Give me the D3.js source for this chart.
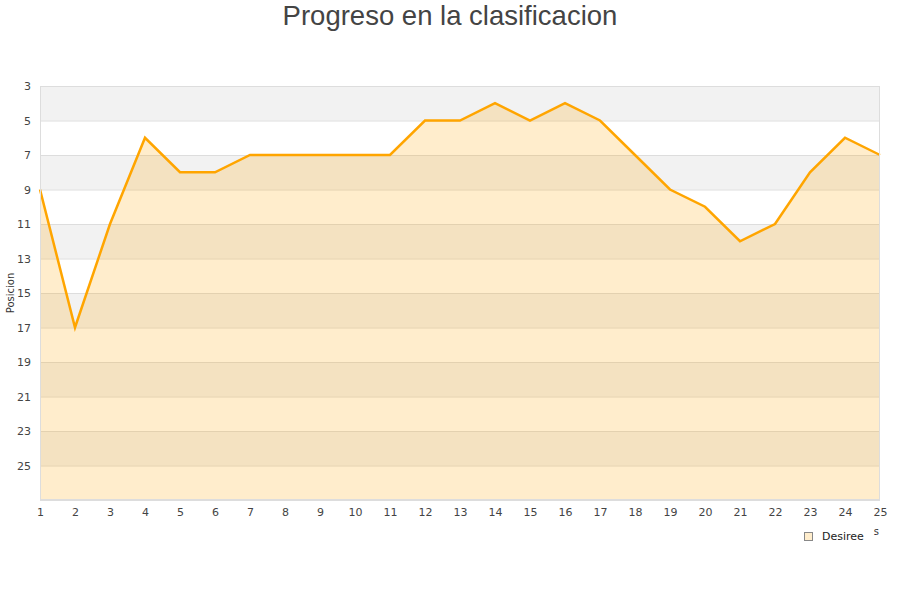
<!DOCTYPE html>
<html><head><meta charset="utf-8">
<script src="https://cdn.jsdelivr.net/npm/d3@7"></script>
<style>body{margin:0;background:#fff}svg{display:block}</style>
</head><body><svg id="c" width="900" height="600"></svg>
<script>
const jornadas = [1,2,3,4,5,6,7,8,9,10,11,12,13,14,15,16,17,18,19,20,21,22,23,24,25];
const posiciones = [9,17,11,6,8,8,7,7,7,7,7,5,5,4,5,4,5,7,9,10,12,11,8,6,7];
const yTicks = [3,5,7,9,11,13,15,17,19,21,23,25];
const bandStarts = [3,7,11,15,19,23];
const seriesName = "Desiree";
const title = "Progreso en la clasificacion";

const svg = d3.select("#c");
const L=40,R=880,T=86,B=500;
const x = d3.scaleLinear().domain([1,25]).range([L,R]);
const y = d3.scaleLinear().domain([3,27]).range([T,B]);

svg.append("text").attr("x",450).attr("y",25).attr("text-anchor","middle")
  .attr("font-family","Liberation Sans, Arial, sans-serif").attr("font-size",27.5).attr("fill","#444").text(title);

svg.append("rect").attr("x",L).attr("y",T).attr("width",R-L).attr("height",B-T).attr("fill","#fff");
svg.selectAll("rect.band").data(bandStarts).enter().append("rect").attr("class","band")
  .attr("x",L).attr("width",R-L).attr("y",d=>y(d)).attr("height",d=>y(d+2)-y(d)).attr("fill","#f2f2f2");
svg.selectAll("line.grid").data(yTicks.concat([27])).enter().append("line").attr("class","grid")
  .attr("x1",L).attr("x2",R).attr("y1",d=>y(d)+0.5).attr("y2",d=>y(d)+0.5).attr("stroke","#ddd");

const area = d3.area().x((d,i)=>x(jornadas[i])).y0(B).y1(d=>y(d));
svg.append("path").datum(posiciones).attr("d",area).attr("fill","#ffa500").attr("fill-opacity",0.2);
const line = d3.line().x((d,i)=>x(jornadas[i])).y(d=>y(d));
svg.append("path").datum(posiciones).attr("d",line).attr("fill","none").attr("stroke","#ffa500").attr("stroke-width",2.5).attr("stroke-linejoin","miter");

svg.append("rect").attr("x",L+0.5).attr("y",T+0.5).attr("width",R-L-1).attr("height",B-T-1).attr("fill","none").attr("stroke","#ddd");

const font="DejaVu Sans, sans-serif";
const yAxis = d3.axisLeft(y).tickValues(yTicks).tickSize(0).tickPadding(9);
const gy = svg.append("g").attr("transform",`translate(${L},0)`).call(yAxis);
gy.select(".domain").remove();
gy.selectAll("text").attr("font-family",font).attr("font-size",11).attr("fill","#444");
const xAxis = d3.axisBottom(x).tickValues(jornadas).tickFormat(d3.format("d")).tickSize(0).tickPadding(8);
const gx = svg.append("g").attr("transform",`translate(0,${B})`).call(xAxis);
gx.select(".domain").remove();
gx.selectAll("text").attr("font-family",font).attr("font-size",11).attr("fill","#444");

svg.append("text").attr("transform","translate(14,293) rotate(-90)").attr("text-anchor","middle")
  .attr("font-family",font).attr("font-size",10).attr("fill","#333").text("Posicion");

// x-axis title remnant: only the final letter shows beside the legend
svg.append("text").attr("x",879).attr("y",535).attr("text-anchor","end")
  .attr("font-family",font).attr("font-size",10).attr("fill","#333").text("s");
svg.append("rect").attr("x",804.5).attr("y",532.5).attr("width",8).attr("height",8).attr("fill","#ffedcc").attr("stroke","#888");
svg.append("text").attr("x",822).attr("y",540).attr("font-family",font).attr("font-size",11).attr("fill","#222").text(seriesName);
</script></body></html>
